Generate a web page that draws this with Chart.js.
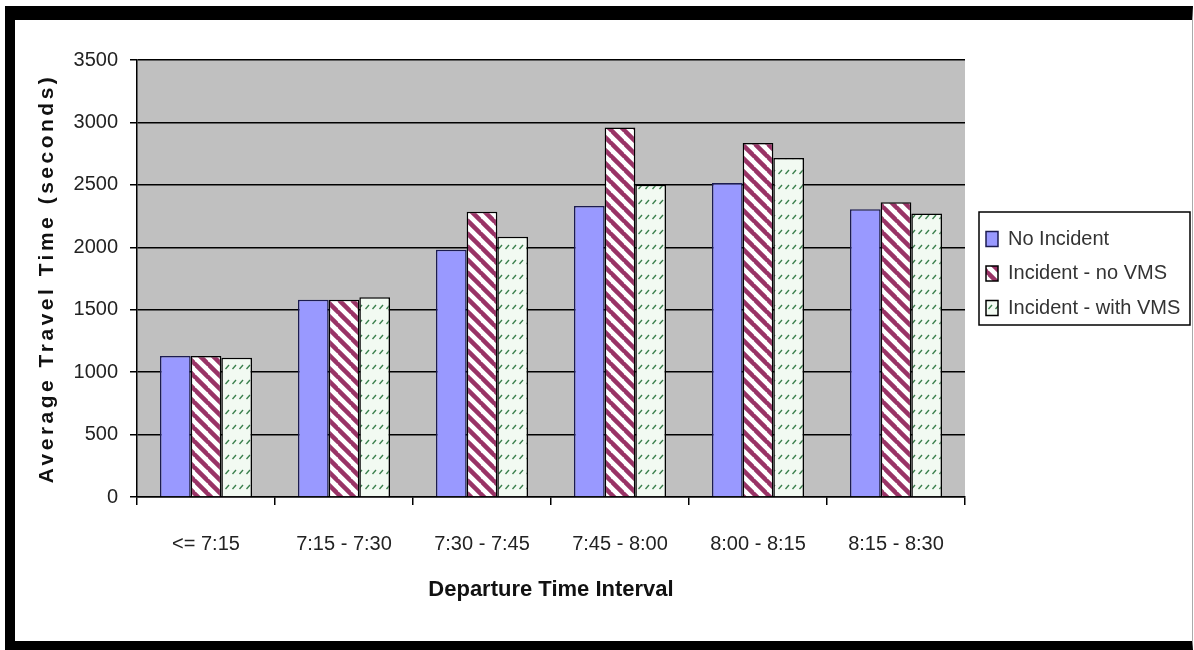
<!DOCTYPE html>
<html>
<head>
<meta charset="utf-8">
<title>Average Travel Time</title>
<script src="https://cdn.jsdelivr.net/npm/chart.js@4.4.1/dist/chart.umd.min.js"></script>
<style>
  html, body { margin: 0; padding: 0; background: #fff; }
  #wrap { position: relative; width: 1194px; height: 650px; overflow: hidden; background: #fff; }
  #grafico { position: absolute; left: 0; top: 0; }
  #marco {
    position: absolute; left: 5px; top: 6px; width: 1188px; height: 644px;
    box-sizing: border-box; pointer-events: none;
    border-left: 10px solid #000; border-top: 14px solid #000;
    border-bottom: 9px solid #000; border-right: 1px solid #aaa;
  }
</style>
</head>
<body>
<div id="wrap">
  <canvas id="grafico" width="1194" height="650"></canvas>
  <div id="marco"></div>
</div>
<script>
const categorias = ['<= 7:15', '7:15 - 7:30', '7:30 - 7:45', '7:45 - 8:00', '8:00 - 8:15', '8:15 - 8:30'];
const noIncident = [1130, 1580, 1980, 2330, 2515, 2305];
const incidentNoVms = [1130, 1580, 2285, 2960, 2835, 2360];
const incidentWithVms = [1115, 1600, 2085, 2500, 2715, 2270];
const yMin = 0;
const yMax = 3500;
const yPaso = 500;

const FUENTE = '"Liberation Sans", Arial, sans-serif';

// patrones de relleno (rayas granate y guiones verdes)
function rayas() {
  const s = 13;
  const c = document.createElement('canvas');
  c.width = s; c.height = s;
  const g = c.getContext('2d');
  g.fillStyle = '#fff';
  g.fillRect(0, 0, s, s);
  g.strokeStyle = '#993366';
  g.lineWidth = 4.5;
  for (const k of [-1, 0, 1]) {
    g.beginPath();
    g.moveTo(-1, k * s - 1);
    g.lineTo(s + 1, s + k * s + 1);
    g.stroke();
  }
  return g.createPattern(c, 'repeat');
}

function guiones() {
  const w = 7, h = 15;
  const c = document.createElement('canvas');
  c.width = w; c.height = h;
  const g = c.getContext('2d');
  g.fillStyle = '#f2faf2';
  g.fillRect(0, 0, w, h);
  g.strokeStyle = '#3a7f4c';
  g.lineWidth = 1.3;
  g.beginPath();
  g.moveTo(1.5, 9);
  g.lineTo(5, 5);
  g.stroke();
  return g.createPattern(c, 'repeat');
}

// fondo gris del area de trazado
const fondo = {
  id: 'fondo',
  beforeDraw(chart) {
    const a = chart.chartArea;
    const ctx = chart.ctx;
    ctx.save();
    ctx.fillStyle = '#c0c0c0';
    ctx.fillRect(a.left, a.top, a.right - a.left, a.bottom - a.top);
    ctx.restore();
  }
};

// titulo del eje Y con letras espaciadas
const tituloEspaciado = {
  id: 'tituloEspaciado',
  beforeDraw(chart) {
    const s = chart.scales.y;
    if (s && !s._espaciado) {
      const orig = s.drawTitle.bind(s);
      s.drawTitle = function () {
        const ctx = this.ctx;
        ctx.save();
        ctx.letterSpacing = '3.5px';
        orig();
        ctx.restore();
      };
      s._espaciado = true;
    }
  }
};

// leyenda algo separada del area de trazado, con marco
const marcoLeyenda = {
  id: 'marcoLeyenda',
  afterLayout(chart) {
    const lg = chart.legend;
    const a = chart.chartArea;
    lg.left = a.right + 6.5;
    lg.right = chart.width - 4;
    lg.top = a.top - 5;
    lg.bottom = a.bottom - 5;
  },
  afterDraw(chart) {
    const hb = chart.legend.legendHitBoxes;
    if (!hb || !hb.length) return;
    const ctx = chart.ctx;
    const x0 = chart.chartArea.right + 14;
    const x1 = chart.width - 4;
    const y0 = hb[0].top - 17;
    const last = hb[hb.length - 1];
    const y1 = last.top + last.height + 7;
    ctx.save();
    ctx.strokeStyle = '#000';
    ctx.lineWidth = 1.5;
    ctx.strokeRect(x0, y0, x1 - x0, y1 - y0);
    ctx.restore();
  }
};

const canvas = document.getElementById('grafico');
const ctx = canvas.getContext('2d');

// ancho de la leyenda para dejar el area de trazado en su sitio
const legendFont = 20, legendPad = 14.5, legendBox = 12;
ctx.font = legendFont + 'px ' + FUENTE;
const textoMax = Math.max(...['No Incident', 'Incident - no VMS', 'Incident - with VMS'].map(t => ctx.measureText(t).width));
const anchoLeyenda = legendPad + legendBox + legendFont / 2 + textoMax;
const padDerecha = Math.max(1194 - 965 - anchoLeyenda - 10, 0);

const chart = new Chart(ctx, {
  type: 'bar',
  data: {
    labels: categorias,
    datasets: [
      {
        label: 'No Incident',
        data: noIncident,
        backgroundColor: '#9999ff',
        borderColor: '#1c1c50',
        borderWidth: 1.5
      },
      {
        label: 'Incident - no VMS',
        data: incidentNoVms,
        backgroundColor: rayas(),
        borderColor: '#000',
        borderWidth: 1.5
      },
      {
        label: 'Incident - with VMS',
        data: incidentWithVms,
        backgroundColor: guiones(),
        borderColor: '#000',
        borderWidth: 1.5
      }
    ]
  },
  options: {
    responsive: false,
    animation: false,
    devicePixelRatio: 1,
    layout: { padding: { left: 15, top: 60, bottom: 9, right: padDerecha } },
    datasets: { bar: { categoryPercentage: 0.667, barPercentage: 1 } },
    plugins: {
      tooltip: { enabled: false },
      legend: {
        position: 'right',
        labels: {
          color: '#333',
          font: { family: FUENTE, size: legendFont },
          boxWidth: legendBox,
          boxHeight: 15,
          padding: legendPad
        }
      }
    },
    scales: {
      x: {
        grid: { display: true, drawOnChartArea: false, color: '#000', lineWidth: 1.5, tickLength: 8, offset: true },
        border: { color: '#000', width: 1.5 },
        ticks: { color: '#222', font: { family: FUENTE, size: 20 }, padding: 27, maxRotation: 0, autoSkip: false },
        title: {
          display: true,
          text: 'Departure Time Interval',
          color: '#111',
          font: { family: FUENTE, size: 22, weight: 'bold' },
          padding: { top: 38, bottom: 38 }
        },
        afterFit(s) { s.height = 144; }
      },
      y: {
        min: yMin,
        max: yMax,
        ticks: {
          stepSize: yPaso,
          color: '#222',
          font: { family: FUENTE, size: 20 },
          padding: 12,
          callback: v => String(v)
        },
        grid: { color: '#000', lineWidth: 1.5, tickLength: 7 },
        border: { color: '#000', width: 1.5 },
        title: {
          display: true,
          text: 'Average Travel Time (seconds)',
          color: '#111',
          font: { family: FUENTE, size: 21, weight: 'bold' },
          padding: { top: 20, bottom: 20 }
        },
        afterFit(s) { s.width = 122; }
      }
    }
  },
  plugins: [fondo, tituloEspaciado, marcoLeyenda]
});
</script>
</body>
</html>
